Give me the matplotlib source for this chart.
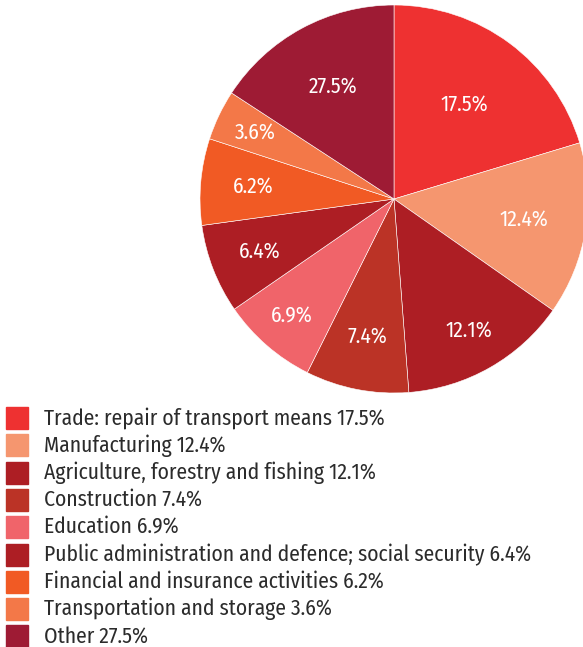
import matplotlib
matplotlib.use('Agg')
import numpy as np
import matplotlib.pyplot as plt
from matplotlib.patches import Rectangle

plt.rcParams['font.family'] = ['Fira Sans Condensed', 'DejaVu Sans']

sectors = ['Trade: repair of transport means', 'Manufacturing',
           'Agriculture, forestry and fishing', 'Construction', 'Education',
           'Public administration and defence; social security',
           'Financial and insurance activities', 'Transportation and storage',
           'Other']
shares = [17.5, 12.4, 12.1, 7.4, 6.9, 6.4, 6.2, 3.6, 27.5]
# the wedges in the picture are not drawn to the printed shares:
# "Other" covers only about 13.6 units of the circle
slice_sizes = [17.5, 12.4, 12.1, 7.4, 6.9, 6.4, 6.2, 3.6, 13.6]
colors = ['#EE3131', '#F5966F', '#AD1E24', '#BB3326', '#F0646A',
          '#AD1E24', '#F15A24', '#F37848', '#9E1B34']

# radial position of each percentage label (fraction of radius)
label_r = [0.61, 0.68, 0.78, 0.72, 0.80, 0.74, 0.73, 0.79, 0.66]

W, H = 583, 647
fig = plt.figure(figsize=(W / 100, H / 100), dpi=100)

# pie: centre (394, 199) px, radius 194 px
cx, cy, r = 394, 199, 194
ax = fig.add_axes([(cx - r) / W, (H - cy - r) / H, 2 * r / W, 2 * r / H])
wedges, _ = ax.pie(slice_sizes, colors=colors, startangle=90, counterclock=False,
                   radius=1, wedgeprops=dict(edgecolor='white', linewidth=0.4))
ax.set_xlim(-1, 1)
ax.set_ylim(-1, 1)
ax.set_aspect('equal')
ax.axis('off')

for w, s, lr in zip(wedges, shares, label_r):
    mid = np.deg2rad((w.theta1 + w.theta2) / 2)
    ax.text(lr * np.cos(mid), lr * np.sin(mid), f'{s}%', color='white',
            fontsize=15.5, ha='center', va='center')

# legend
row0, step = 418, 27.3
for i, (name, s, c) in enumerate(zip(sectors, shares, colors)):
    yc = row0 + i * step
    fig.patches.append(Rectangle((6 / W, 1 - (yc + 11) / H), 22 / W, 22 / H,
                                 transform=fig.transFigure, color=c))
    fig.text(44 / W, 1 - yc / H, f'{name} {s}%', fontsize=15.5, color='#2B2B2B',
             va='center', ha='left')

fig.savefig('out.png', dpi=100)
